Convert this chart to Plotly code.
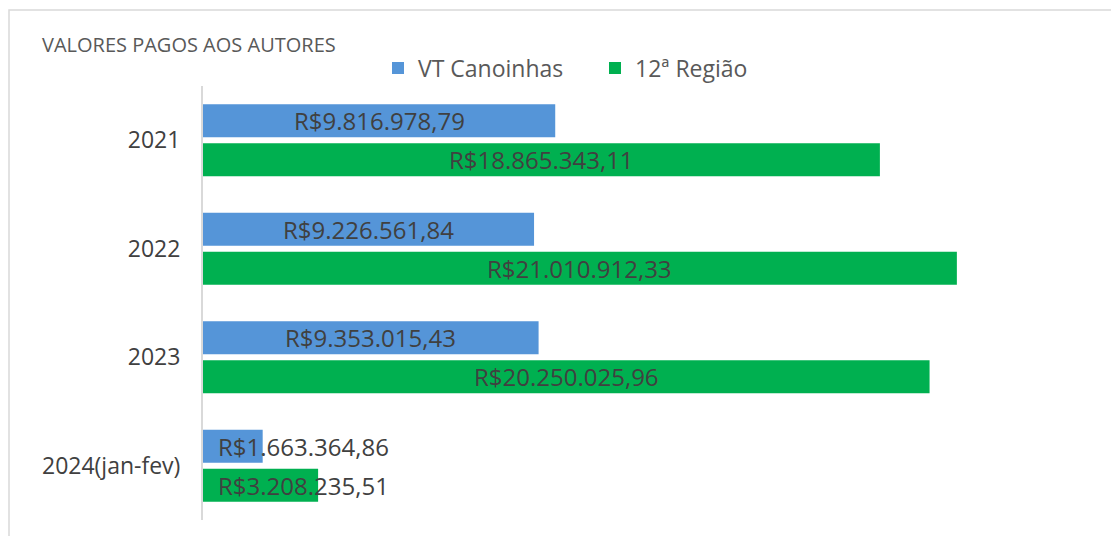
import plotly.graph_objects as go

categories = ["2021", "2022", "2023", "2024(jan-fev)"]
vt_canoinhas = [9816978.79, 9226561.84, 9353015.43, 1663364.86]
regiao12 = [18865343.11, 21010912.33, 20250025.96, 3208235.51]
series_names = ["VT Canoinhas", "12ª Região"]
title_text = "VALORES PAGOS AOS AUTORES"


def brl(v):
    s = f"{v:,.2f}"
    s = s.replace(",", "X").replace(".", ",").replace("X", ".")
    return "R$" + s


# page body has an 8px default margin: work in screen pixels, then subtract it
OFF = 8
W, H = 1119 - OFF, 536 - OFF
L, R, T, B = 203 - OFF, 19, 86 - OFF, 16
pw, ph = W - L - R, H - T - B


def px_x(sx):
    return (sx - OFF - L) / pw


def px_y(sy):
    return (H - (sy - OFF) - B) / ph


FONT = "Open Sans"
TXT = "#404040"

fig = go.Figure()
fig.add_trace(go.Bar(y=categories, x=vt_canoinhas, orientation="h", name=series_names[0],
                     marker=dict(color="#5595d8", line=dict(width=0))))
fig.add_trace(go.Bar(y=categories, x=regiao12, orientation="h", name=series_names[1],
                     marker=dict(color="#00b050", line=dict(width=0))))

annotations = []
for series, shift in ((vt_canoinhas, 19.5), (regiao12, -19.5)):
    for i, v in enumerate(series):
        if v > 5e6:
            annotations.append(dict(x=v / 2, y=i, text=brl(v), showarrow=False,
                                    xanchor="center", yanchor="middle", yshift=shift,
                                    font=dict(family=FONT, size=24, color=TXT)))
        else:
            annotations.append(dict(x=0, y=i, text=brl(v), showarrow=False,
                                    xanchor="left", yanchor="middle", yshift=shift, xshift=13,
                                    font=dict(family=FONT, size=24, color=TXT)))

annotations.append(dict(xref="paper", yref="paper", x=px_x(40), y=px_y(44),
                        text=title_text, showarrow=False, xanchor="left", yanchor="middle",
                        font=dict(family=FONT, size=20, color="#595959")))

shapes = [dict(type="rect", xref="paper", yref="paper",
               x0=px_x(9), x1=px_x(1125), y0=px_y(545), y1=px_y(10),
               line=dict(color="#d9d9d9", width=1.5), fillcolor="rgba(0,0,0,0)", layer="below")]

fig.update_layout(
    width=W, height=H,
    margin=dict(l=L, r=R, t=T, b=B, autoexpand=False),
    paper_bgcolor="white", plot_bgcolor="white",
    barmode="group", bargap=0.28, bargroupgap=0.154,
    font=dict(family=FONT, color=TXT),
    showlegend=True,
    legend=dict(orientation="h", x=px_x(378), xanchor="left", y=px_y(68), yanchor="middle",
                font=dict(family=FONT, size=23, color="#595959"), traceorder="normal",
                itemwidth=30, entrywidth=172, bgcolor="rgba(0,0,0,0)"),
    annotations=annotations, shapes=shapes,
)
fig.update_xaxes(range=[0, 25000000], visible=False, showgrid=False, zeroline=False)
fig.update_yaxes(type="category", categoryorder="array", categoryarray=categories,
                 range=[len(categories) - 0.5, -0.5], showline=True, linecolor="#d9d9d9",
                 linewidth=2, showgrid=False, ticks="", ticklabelstandoff=16,
                 tickfont=dict(family=FONT, size=23, color=TXT))

fig.write_html("out.html")
